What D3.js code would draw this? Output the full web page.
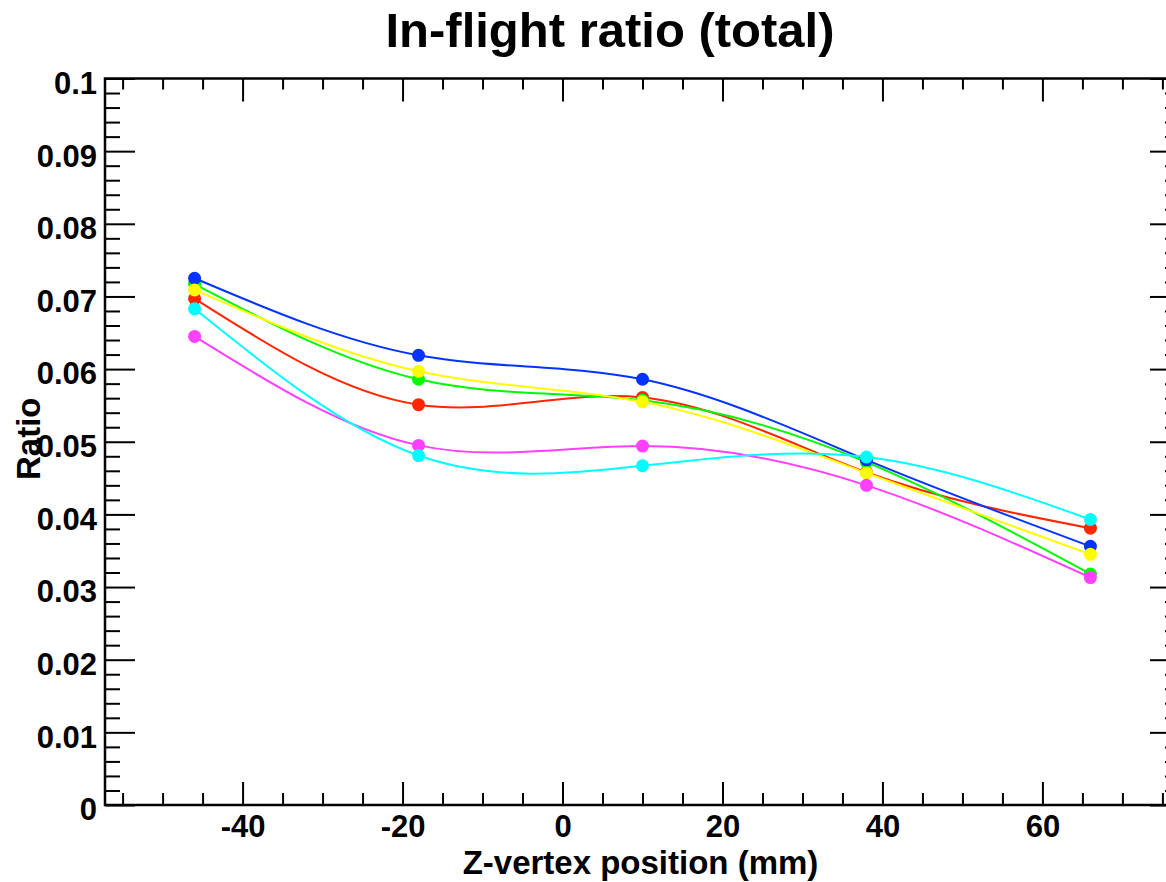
<!DOCTYPE html>
<html><head><meta charset="utf-8">
<script src="https://cdn.jsdelivr.net/npm/d3@7"></script>
<style>
html,body{margin:0;padding:0;background:#fff;}
svg{display:block;}
text{font-family:"Liberation Sans",Arial,Helvetica,sans-serif;font-weight:bold;fill:#000;}
</style></head>
<body>
<svg id="chart" width="1166" height="882"></svg>
<script>
// ---- data ----
const zPositions = [-46, -18, 10, 38, 66];
const redSeries     = [0.0697, 0.0551, 0.0561, 0.0458, 0.0381];
const greenSeries   = [0.0717, 0.0586, 0.0557, 0.0472, 0.0318];
const blueSeries    = [0.0725, 0.0619, 0.0586, 0.0475, 0.0356];
const yellowSeries  = [0.0709, 0.0597, 0.0555, 0.0457, 0.0345];
const magentaSeries = [0.0645, 0.0495, 0.0494, 0.0440, 0.0313];
const cyanSeries    = [0.0683, 0.0481, 0.0467, 0.0479, 0.0393];
const xTickValues = [-40, -20, 0, 20, 40, 60];
const xTickLabels = ["-40", "-20", "0", "20", "40", "60"];
const yTickValues = [0, 0.01, 0.02, 0.03, 0.04, 0.05, 0.06, 0.07, 0.08, 0.09, 0.1];
const yTickLabels = ["0", "0.01", "0.02", "0.03", "0.04", "0.05", "0.06", "0.07", "0.08", "0.09", "0.1"];
const titleText = "In-flight ratio (total)";
const xTitle = "Z-vertex position (mm)";
const yTitle = "Ratio";

const series = [
  {values: redSeries,     color: "#ff2600"},
  {values: greenSeries,   color: "#00f900"},
  {values: blueSeries,    color: "#0433ff"},
  {values: yellowSeries,  color: "#fffb00"},
  {values: magentaSeries, color: "#ff40ff"},
  {values: cyanSeries,    color: "#00fdff"}
];

// ---- layout ----
const fLeft = 105, fRight = 1180, fTop = 78.5, fBottom = 805;
const svg = d3.select("#chart");

const x = d3.scaleLinear().domain([-57.2, 77.2]).range([fLeft, fRight]);
const y = d3.scaleLinear().domain([0, 0.1]).range([fBottom, fTop]);

const xMinor = d3.range(-55, 77, 5).filter(v => v % 20 !== 0);
const yMinor = d3.range(0, 101, 2).map(v => v / 1000).filter((v, i) => i % 5 !== 0);

function styleAxis(g) {
  g.select(".domain").remove();
  g.selectAll(".tick line").attr("stroke", "#000").attr("stroke-width", 2);
}

// bottom axis
svg.append("g").attr("transform", `translate(0,${fBottom})`)
  .call(d3.axisBottom(x).tickValues(xTickValues).tickFormat((d, i) => xTickLabels[i]).tickSize(-23).tickPadding(10))
  .call(styleAxis)
  .call(g => g.selectAll("text").attr("font-size", 31).attr("font-family", null));
svg.append("g").attr("transform", `translate(0,${fBottom})`)
  .call(d3.axisBottom(x).tickValues(xMinor).tickFormat("").tickSize(-12))
  .call(styleAxis);
// top axis
svg.append("g").attr("transform", `translate(0,${fTop})`)
  .call(d3.axisTop(x).tickValues(xTickValues).tickFormat("").tickSize(-23))
  .call(styleAxis);
svg.append("g").attr("transform", `translate(0,${fTop})`)
  .call(d3.axisTop(x).tickValues(xMinor).tickFormat("").tickSize(-11))
  .call(styleAxis);
// left axis
svg.append("g").attr("transform", `translate(${fLeft},0)`)
  .call(d3.axisLeft(y).tickValues(yTickValues).tickFormat((d, i) => yTickLabels[i]).tickSize(-30).tickPadding(8))
  .call(styleAxis)
  .call(g => g.selectAll("text").attr("font-size", 31).attr("font-family", null).attr("dy", "0.48em"));
svg.append("g").attr("transform", `translate(${fLeft},0)`)
  .call(d3.axisLeft(y).tickValues(yMinor).tickFormat("").tickSize(-15))
  .call(styleAxis);
// right axis
svg.append("g").attr("transform", `translate(${fRight},0)`)
  .call(d3.axisRight(y).tickValues(yTickValues).tickFormat("").tickSize(-30))
  .call(styleAxis);
svg.append("g").attr("transform", `translate(${fRight},0)`)
  .call(d3.axisRight(y).tickValues(yMinor).tickFormat("").tickSize(-15))
  .call(styleAxis);

// frame
svg.append("rect").attr("x", fLeft).attr("y", fTop).attr("width", fRight - fLeft).attr("height", fBottom - fTop)
  .attr("fill", "none").attr("stroke", "#000").attr("stroke-width", 2.5);

// series
const line = d3.line().x((d, i) => x(zPositions[i])).y(d => y(d)).curve(d3.curveNatural);
series.forEach(s => {
  const g = svg.append("g");
  g.append("path").attr("d", line(s.values)).attr("fill", "none").attr("stroke", s.color).attr("stroke-width", 2);
  g.selectAll("circle").data(s.values).join("circle")
    .attr("cx", (d, i) => x(zPositions[i])).attr("cy", d => y(d)).attr("r", 6.5).attr("fill", s.color);
});

// titles
svg.append("text").attr("x", 610).attr("y", 47).attr("text-anchor", "middle").attr("font-size", 49).text(titleText);
svg.append("text").attr("x", (fLeft + fRight) / 2 - 2).attr("y", 874).attr("text-anchor", "middle").attr("font-size", 33).text(xTitle);
svg.append("text").attr("transform", `translate(40,${(fTop + fBottom) / 2 - 3}) rotate(-90)`).attr("text-anchor", "middle").attr("font-size", 33).text(yTitle);
</script>
</body></html>
